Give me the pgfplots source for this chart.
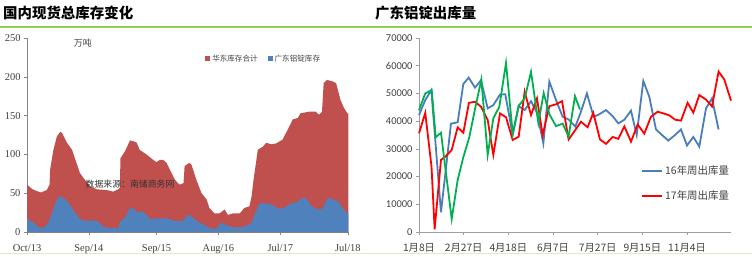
\documentclass[border=0pt]{standalone}
\usepackage{fontspec}
\setmainfont{Liberation Serif}
\newfontfamily\cjk{Noto Sans CJK SC}
\newfontfamily\carl{Carlito}
\usepackage{pgfplots}
\pgfplotsset{compat=1.18}
\definecolor{redA}{HTML}{C0504D}
\definecolor{blueA}{HTML}{4F81BD}
\definecolor{gline}{HTML}{92D050}
\definecolor{axgray}{HTML}{868686}
\definecolor{txt}{HTML}{404040}
\definecolor{blueL}{HTML}{4A7EBB}
\definecolor{greenL}{HTML}{00B050}

\pgfplotstableread{
m v
0 61
0.5 58
1 55
2 52
2.5 51
3.5 54
4 61
4.1 80
4.7 106
5.3 123
5.9 129
6.2 128
7.1 115
8 106
8.6 93
9.4 76
10.3 67
11.2 59
12.4 55
14.2 54
15.3 52
16.2 55
16.5 57
16.6 95
17.4 104
18.3 118
18.9 117
19.5 115
20 106
21.2 100
22.4 93
23 90
23.6 93
24.2 93
24.8 89
25.4 80
26.3 67
27.1 61
27.8 63
28 85
28.8 89
29.2 87
30.1 67
31 50
31.9 42
32.4 31
33.3 24
34.2 24
35.1 29
35.7 22
36.6 24
37.8 24
38.6 31
39.5 33
39.9 46
40.2 65
41 106
41.9 110
42.5 115
43.4 113
44.2 114
45.4 119
46.6 136
47.2 145
48.1 147
48.6 153
50.1 155
51.3 155
51.9 151
52.4 155
52.7 192
53.3 196
54.3 194
54.9 192
55.7 170
56.3 160
56.9 153
57.1 153
}\totaltbl

\pgfplotstableread{
m v
0 18
0.6 14
1.2 12
2.1 6
2.7 5
3.2 7
3.8 12
4.4 24
5.3 42
5.8 46
6.5 44
7.1 40
8 31
8.6 24
9.4 17
10.3 14
11.5 15
12.4 14
13.6 7
14.7 5
16.2 5
16.6 14
17.4 18
18.2 30
18.9 31
19.5 25
20.4 27
21.2 22
22.1 16
23 18
23.6 17
24.8 18
26.3 14
27.7 14
28.3 21
28.9 22
29.5 18
30.7 12
31.6 9
32.4 5
33.6 4
34.5 12
35.4 9
36.6 6
37.8 6
38.6 7
39.8 11
40.7 27
41.3 37
41.9 37
42.8 37
44 33
44.8 30
45.7 31
46.9 37
47.8 38
49 44
49.6 44
50.4 34
51.6 29
52.5 30
53.4 44
54.3 42
55.2 40
56 31
56.9 24
57.1 24
}\guangtbl

\pgfplotstableread{
d v
0 42200
7 47600
13.8 51200
24.6 7100
35.8 39100
43.3 39600
49.6 53400
55.6 55700
62.7 52100
69.4 54800
76.9 44600
83.2 45800
90.7 49600
96.6 49700
104.9 35000
111.6 45400
118.3 44000
125.4 47200
132.1 43000
139.2 32000
145.9 54300
153.4 47600
160.8 41600
167.5 40600
175 38000
181.3 43400
188 50000
195.5 41500
201.9 42500
209.3 44000
216.8 41800
223.1 39200
229.9 40500
237.3 43800
243.7 35000
251.1 54500
257.8 48800
265.3 37000
272 35000
279.1 33000
286.6 35000
293.3 37000
300 31200
307.1 34300
313.8 30800
321.3 44600
328 48200
335.4 37000
}\bluetbl

\pgfplotstableread{
d v
0 35600
7 43000
14 23600
17.5 1000
24.6 26000
30.2 27400
36.6 29600
43.3 37800
49.6 35800
55.9 46600
62.7 47000
69.4 45200
76.9 40400
83.2 27800
90.7 42800
97.4 41400
104.9 33200
111.6 34400
118.3 50600
125.4 42200
132.1 48200
138.4 35000
145.9 45400
153.4 46100
160.1 47200
167.5 33400
175 36800
181.3 39800
188.8 37800
195.1 43000
202.6 33400
209.3 31800
216.8 34300
223.1 33600
229.9 38100
237.3 32600
244.8 38800
252.2 35500
259.7 41600
267.2 43400
273.5 42800
280.2 42100
286.9 40500
293.3 40200
300.7 46600
307.1 43100
313.8 49400
321.3 47800
328 45300
335.4 57900
341.8 55000
349.3 47400
}\redtbl

\pgfplotstableread{
d v
0 44000
7 50000
14.2 51200
18.7 34200
24.6 35800
36.6 4700
43.3 18800
49.6 27000
56.3 34200
63.1 45000
69.8 55000
76.9 27800
83.2 41000
89.9 45200
97.4 61000
104.9 35500
111.6 45600
118.3 48200
125.4 57800
133.6 39400
139.6 50100
145.9 42500
153.4 38200
160.8 39100
167.5 34500
174.6 49000
180.2 44200
}\greentbl

\begin{document}
\begin{tikzpicture}[x=1bp,y=1bp]
\useasboundingbox (0,0) rectangle (752,256);
\node[anchor=west, inner sep=0, font=\cjk\bfseries\fontsize{14.5}{15}\selectfont] at (3,243) {国内现货总库存变化};
\node[anchor=west, inner sep=0, font=\cjk\bfseries\fontsize{14.5}{15}\selectfont] at (375,243) {广东铝锭出库量};
\fill[gline] (0,228.5) rectangle (752,230.5);
\draw[gline!35, line width=1bp] (0,3) -- (752,3);

\begin{axis}[at={(27bp,24bp)}, anchor=south west, scale only axis,
  width=322bp, height=194bp,
  xmin=0, xmax=57.2, ymin=0, ymax=250,
  axis x line*=bottom, axis y line*=left,
  axis line style={axgray, line width=0.6bp},
  tick style={axgray, line width=0.6bp}, tick align=outside, major tick length=3bp,
  ytick={0,50,...,250},
  xtick={0,11,23,34,45,57},
  xticklabels={Oct/13,Sep/14,Sep/15,Aug/16,Jul/17,Jul/18},
  tick label style={font=\fontsize{10.5}{11}\selectfont, text=txt},
  /pgf/number format/assume math mode=true,
  xticklabel style={yshift=-6bp},
  legend style={at={(0.553,0.892)}, anchor=west, draw=none, fill=none,
    font=\cjk\fontsize{7.6}{8}\selectfont, text=txt, inner sep=0pt,
    /tikz/every even column/.append style={column sep=8bp}},
  legend columns=2,
  legend image code/.code={\fill[#1] (0bp,-2.5bp) rectangle (5bp,2.5bp);},
  clip=false,
]
\addplot[fill=redA, draw=none] table[x=m,y=v] {\totaltbl} \closedcycle;
\addlegendentry{华东库存合计}
\addplot[fill=blueA, draw=none] table[x=m,y=v] {\guangtbl} \closedcycle;
\addlegendentry{广东铝锭库存}
\node[font=\cjk\fontsize{9}{9}\selectfont, text=txt, anchor=west, inner sep=0] at (axis cs:8.3,243) {万吨};
\node[font=\cjk\fontsize{8.9}{9}\selectfont, text=black!80, anchor=west, inner sep=0] at (axis cs:10.4,62) {数据来源：南储商务网};
\end{axis}

\begin{axis}[at={(419bp,24bp)}, anchor=south west, scale only axis,
  width=312bp, height=194bp,
  xmin=0, xmax=349.3, ymin=0, ymax=70000,
  axis x line*=bottom, axis y line*=left,
  axis line style={axgray!80, line width=0.6bp},
  tick style={axgray!80, line width=0.6bp}, tick align=outside, major tick length=3bp,
  ytick={0,10000,...,70000},
  scaled y ticks=false,
  /pgf/number format/fixed,
  /pgf/number format/1000 sep={},
  /pgf/number format/assume math mode=true,
  yticklabel style={font=\carl\fontsize{10.5}{11}\selectfont, text=txt},
  xtick={0,50,100,150,200,250,300},
  xticklabels={1月8日,2月27日,4月18日,6月7日,7月27日,9月15日,11月4日},
  xticklabel style={font=\cjk\fontsize{10.3}{11}\selectfont, text=txt, yshift=-5bp},
  legend style={at={(0.712,0.354)}, anchor=north west, draw=none, fill=none,
    font=\cjk\fontsize{10.5}{11}\selectfont, text=txt, inner sep=0pt,
    row sep=11bp, cells={anchor=west}},
  legend image code/.code={\draw[#1] (0bp,0bp) -- (20bp,0bp);},
  clip=false,
]
\addplot[blueL, line width=1.8bp] table[x=d,y=v] {\bluetbl};
\addlegendentry{16年周出库量}
\addplot[red, line width=1.8bp] table[x=d,y=v] {\redtbl};
\addlegendentry{17年周出库量}
\addplot[greenL, line width=1.8bp, forget plot] table[x=d,y=v] {\greentbl};
\end{axis}
\end{tikzpicture}
\end{document}
